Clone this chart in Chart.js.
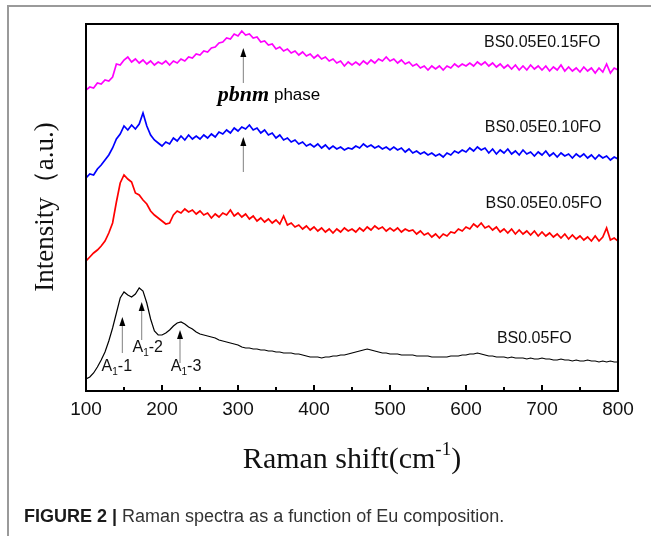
<!DOCTYPE html>
<html>
<head>
<meta charset="utf-8">
<script src="https://cdn.jsdelivr.net/npm/chart.js@4.4.1/dist/chart.umd.min.js"></script>
<style>
  html, body { margin: 0; padding: 0; background: #fff; }
  #wrap { position: relative; width: 651px; height: 536px; overflow: hidden; }
  #frame { position: absolute; left: 7px; top: 5px; width: 700px; height: 600px;
           border-left: 2px solid #9a9a9a; border-top: 2px solid #9a9a9a; }
  #c { position: absolute; left: 0; top: 0; }
  #caption { position: absolute; left: 24px; top: 506px; font: 18px "Liberation Sans", Arial, sans-serif;
             color: #333; white-space: nowrap; }
  #caption b { color: #1a1a1a; }
</style>
</head>
<body>
<div id="wrap">
  <div id="frame"></div>
  <canvas id="c" width="651" height="536"></canvas>
  <div id="caption"><b>FIGURE 2 |</b> Raman spectra as a function of Eu composition.</div>
</div>
<script>
// ====================== DATA ======================
const shifts = [
  100,105,110,115,120,125,130,135,140,145,
  150,155,160,165,170,175,180,185,190,195,
  200,205,210,215,220,225,230,235,240,245,
  250,255,260,265,270,275,280,285,290,295,
  300,305,310,315,320,325,330,335,340,345,
  350,355,360,365,370,375,380,385,390,395,
  400,405,410,415,420,425,430,435,440,445,
  450,455,460,465,470,475,480,485,490,495,
  500,505,510,515,520,525,530,535,540,545,
  550,555,560,565,570,575,580,585,590,595,
  600,605,610,615,620,625,630,635,640,645,
  650,655,660,665,670,675,680,685,690,695,
  700,705,710,715,720,725,730,735,740,745,
  750,755,760,765,770,775,780,785,790,795,
  800
];

// BS0.05E0.15FO (offset upward)
const magentaY = [
  301,304,303,308,307,311,310,314,327,326,
  331,334,329,332,328,331,327,330,326,329,
  327,330,326,330,328,332,330,334,333,337,
  336,340,339,343,344,348,349,353,352,357,
  355,360,356,357,353,354,349,350,346,347,
  342,344,340,342,338,340,336,339,335,337,
  333,336,332,334,330,332,328,330,325,329,
  326,329,326,330,327,331,328,332,330,334,
  330,332,328,331,327,329,325,327,323,325,
  321,325,322,325,321,325,323,327,324,327,
  325,328,325,329,326,329,325,328,324,327,
  323,326,322,326,321,325,321,326,322,325,
  321,325,320,324,321,326,320,324,320,323,
  319,324,320,323,318,323,319,327,318,323,
  321
];

// BS0.05E0.10FO
const blueY = [
  213,217,216,222,226,231,236,243,252,257,
  265,261,266,262,267,278,265,256,251,248,
  245,249,247,253,250,255,251,256,252,255,
  252,256,253,257,254,259,257,261,258,263,
  260,264,262,266,261,263,258,261,256,258,
  253,256,251,253,249,251,247,249,245,247,
  244,247,243,246,242,245,242,244,241,243,
  242,245,243,247,244,246,243,245,242,244,
  241,244,241,243,239,242,238,240,237,239,
  236,238,235,237,234,238,236,240,238,241,
  239,243,240,244,241,243,238,242,237,241,
  238,242,237,240,236,241,237,239,235,239,
  236,240,235,238,234,238,235,237,233,237,
  234,237,233,236,232,236,233,235,231,234,
  232
];

// BS0.05E0.05FO
const redY = [
  130,134,138,141,145,150,158,168,189,208,
  216,212,209,198,196,191,187,180,176,173,
  170,167,168,176,180,178,182,179,181,177,
  180,176,178,173,177,174,178,176,181,175,
  178,174,177,172,175,170,173,169,172,168,
  171,167,175,166,168,164,166,162,165,161,
  164,160,163,159,162,158,162,159,163,160,
  162,159,163,160,164,161,165,162,164,160,
  163,160,163,159,162,160,161,157,160,156,
  158,154,157,153,157,155,159,158,162,160,
  164,162,167,164,168,163,165,161,164,159,
  162,158,162,157,161,157,160,156,160,155,
  159,155,158,154,157,153,157,152,156,152,
  155,151,154,150,155,150,154,163,151,153,
  150
];

// BS0.05FO
const blackY = [
  12,14,18,24,31,39,50,63,78,93,
  99,96,94,97,103,100,88,72,60,56,
  56,58,61,65,68,69,67,64,62,59,
  57,56,55,54,53,51,50,49,48,47,
  46,44,43,43,42,42,41,41,40,40,
  39,39,38,38,38,37,37,36,35,34,
  34,34,33,34,34,35,35,36,36,37,
  38,39,40,41,42,41,40,39,38,38,
  37,37,37,36,36,36,36,35,35,35,
  35,34,34,34,34,34,35,35,35,36,
  36,37,37,38,37,36,35,35,34,34,
  34,33,34,33,33,33,32,33,32,32,
  33,32,32,31,31,32,31,31,30,31,
  30,30,31,30,30,29,30,29,30,29,
  29
];

const seriesNames = ["BS0.05E0.15FO", "BS0.05E0.10FO", "BS0.05E0.05FO", "BS0.05FO"];
const seriesColors = ["#ff00ff", "#0000ff", "#ff0000", "#000000"];
const xTicks = [100, 200, 300, 400, 500, 600, 700, 800];

function pts(ys) {
  return shifts.map((s, i) => ({ x: s, y: ys[i] }));
}

// ====================== ANNOTATIONS ======================
function arrow(ctx, px, yBottom, yTip) {
  ctx.strokeStyle = "#808080";
  ctx.lineWidth = 1;
  ctx.beginPath();
  ctx.moveTo(px, yBottom);
  ctx.lineTo(px, yTip + 6);
  ctx.stroke();
  ctx.fillStyle = "#000";
  ctx.beginPath();
  ctx.moveTo(px, yTip);
  ctx.lineTo(px - 3, yTip + 9);
  ctx.lineTo(px + 3, yTip + 9);
  ctx.closePath();
  ctx.fill();
}

function modeLabel(ctx, left, mid, num) {
  ctx.font = '16px "Liberation Sans", Arial';
  ctx.textBaseline = "middle";
  ctx.textAlign = "left";
  ctx.fillStyle = "#111";
  ctx.fillText("A", left, mid);
  let w = ctx.measureText("A").width;
  ctx.font = '10px "Liberation Sans", Arial';
  ctx.fillText("1", left + w, mid + 5);
  w += ctx.measureText("1").width;
  ctx.font = '16px "Liberation Sans", Arial';
  ctx.fillText("-" + num, left + w, mid);
}

const annotate = {
  id: "annotate",
  afterDatasetsDraw(chart) {
    const { ctx, chartArea: a, scales: { x, y } } = chart;
    const X = v => x.getPixelForValue(v);
    const Y = v => y.getPixelForValue(v);
    ctx.save();

    // box
    ctx.strokeStyle = "#000";
    ctx.lineWidth = 2;
    ctx.strokeRect(a.left, a.top, a.right - a.left, a.bottom - a.top);

    // inward ticks on bottom axis
    for (let i = 0; i < xTicks.length; i++) {
      const px = X(xTicks[i]);
      ctx.beginPath(); ctx.moveTo(px, a.bottom); ctx.lineTo(px, a.bottom - 6); ctx.stroke();
      if (i < xTicks.length - 1) {
        const mx = X((xTicks[i] + xTicks[i + 1]) / 2);
        ctx.beginPath(); ctx.moveTo(mx, a.bottom); ctx.lineTo(mx, a.bottom - 4); ctx.stroke();
      }
    }

    // sample names
    ctx.font = '16px "Liberation Sans", Arial';
    ctx.fillStyle = "#111";
    ctx.textAlign = "right";
    ctx.textBaseline = "middle";
    ctx.fillText(seriesNames[0], X(777), Y(348));
    ctx.fillText(seriesNames[1], X(778), Y(263));
    ctx.fillText(seriesNames[2], X(779), Y(187));
    ctx.fillText(seriesNames[3], X(739), Y(52));

    // pbnm phase arrows + label
    arrow(ctx, X(307), Y(308), Y(343));
    arrow(ctx, X(307), Y(219), Y(254));
    ctx.textAlign = "left";
    ctx.font = 'italic bold 22px "Liberation Serif", "Times New Roman", serif';
    ctx.fillText("pbnm", X(273.5), Y(296));
    const pw = ctx.measureText("pbnm").width;
    ctx.font = '17px "Liberation Sans", Arial';
    ctx.fillText(" phase", X(273.5) + pw, Y(296));

    // A1 modes
    arrow(ctx, X(147.8), Y(38), Y(74));
    arrow(ctx, X(173.3), Y(51), Y(89));
    arrow(ctx, X(223.7), Y(28), Y(61));
    modeLabel(ctx, X(120.5), Y(24), 1);
    modeLabel(ctx, X(161.2), Y(43), 2);
    modeLabel(ctx, X(211.6), Y(24), 3);

    // axis titles
    ctx.fillStyle = "#111";
    ctx.font = '27px "Liberation Serif", "Times New Roman", serif';
    ctx.save();
    ctx.translate(46, 207);
    ctx.rotate(-Math.PI / 2);
    ctx.textAlign = "center";
    ctx.fillText("Intensity（a.u.)", 0, 0);
    ctx.restore();

    const cx = (a.left + a.right) / 2;
    const ty = 460;
    const big = '30px "Liberation Serif", "Times New Roman", serif';
    const small = '19px "Liberation Serif", "Times New Roman", serif';
    ctx.font = big;
    const w1 = ctx.measureText("Raman shift(cm").width;
    const w3 = ctx.measureText(")").width;
    ctx.font = small;
    const w2 = ctx.measureText("-1").width;
    let sx = cx - (w1 + w2 + w3) / 2;
    ctx.textAlign = "left";
    ctx.font = big;
    ctx.fillText("Raman shift(cm", sx, ty);
    ctx.font = small;
    ctx.fillText("-1", sx + w1, ty - 10);
    ctx.font = big;
    ctx.fillText(")", sx + w1 + w2, ty);

    ctx.restore();
  }
};

// ====================== CHART ======================
Chart.defaults.font.family = '"Liberation Sans", Arial, sans-serif';
Chart.defaults.color = "#111";

new Chart(document.getElementById("c"), {
  type: "line",
  data: {
    datasets: [
      { label: seriesNames[0], data: pts(magentaY), borderColor: seriesColors[0], borderWidth: 1.7 },
      { label: seriesNames[1], data: pts(blueY), borderColor: seriesColors[1], borderWidth: 1.7 },
      { label: seriesNames[2], data: pts(redY), borderColor: seriesColors[2], borderWidth: 1.7 },
      { label: seriesNames[3], data: pts(blackY), borderColor: seriesColors[3], borderWidth: 1.2 }
    ]
  },
  options: {
    responsive: false,
    animation: false,
    layout: { padding: { left: 0, top: 24, right: 33, bottom: 0 } },
    elements: { point: { radius: 0 }, line: { tension: 0 } },
    plugins: { legend: { display: false }, tooltip: { enabled: false } },
    scales: {
      x: {
        type: "linear",
        min: 100,
        max: 800,
        afterFit: s => { s.height = 145; },
        afterBuildTicks: s => { s.ticks = xTicks.map(v => ({ value: v })); },
        grid: { display: false, drawTicks: false },
        border: { display: false },
        ticks: { padding: 7, font: { size: 19 }, color: "#111" }
      },
      y: {
        min: 0,
        max: 367,
        afterFit: s => { s.width = 86; },
        grid: { display: false, drawTicks: false },
        border: { display: false },
        ticks: { display: false }
      }
    }
  },
  plugins: [annotate]
});
</script>
</body>
</html>
